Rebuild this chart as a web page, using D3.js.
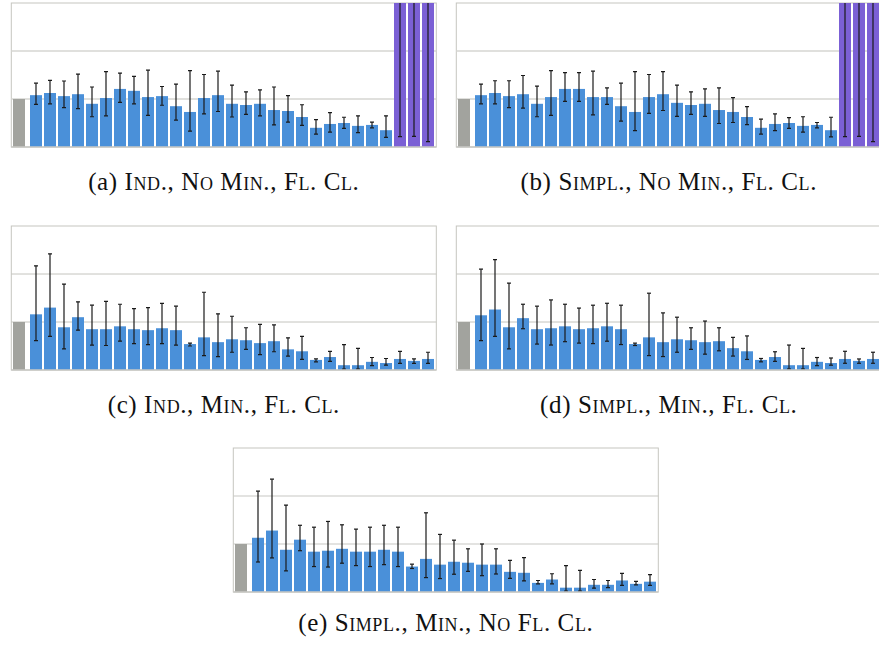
<!DOCTYPE html>
<html>
<head>
<meta charset="utf-8">
<script src="https://cdn.jsdelivr.net/npm/d3@7"></script>
<style>
  body { margin: 0; background: #fff; }
  svg { display: block; }
  .caption { font-family: "Liberation Serif", "DejaVu Serif", serif; font-size: 25px; letter-spacing: 0.6px; fill: #111; }
  .caption .sc { font-variant: small-caps; }
</style>
</head>
<body>
<svg id="chart" width="879" height="646"></svg>
<script>
// categories: reference bar + 29 configurations
var categories = ["C1","C2","C3","C4","C5","C6","C7","C8","C9","C10","C11","C12","C13","C14","C15",
  "C16","C17","C18","C19","C20","C21","C22","C23","C24","C25","C26","C27","C28","C29"];
var baselineValue = 1;
var outliersAB = ["C27","C28","C29"];   // purple bars in (a) and (b)
var yTicks = [1, 2, 3];

var labelsPanel = ["(a)", "(b)", "(c)", "(d)", "(e)"];
var captionA = "Ind., No Min., Fl. Cl.";
var captionB = "Simpl., No Min., Fl. Cl.";
var captionC = "Ind., Min., Fl. Cl.";
var captionD = "Simpl., Min., Fl. Cl.";
var captionE = "Simpl., Min., No Fl. Cl.";

var valuesA = [1.08,1.125,1.06,1.10,0.90,1.02,1.21,1.17,1.04,1.06,0.85,0.73,1.02,1.08,0.90,0.875,0.90,0.77,0.75,0.625,0.40,0.48,0.50,0.44,0.46,0.35,6,6,6];
var lowA    = [0.89,0.90,0.82,0.80,0.63,0.65,0.93,0.90,0.66,0.87,0.56,0.33,0.69,0.74,0.625,0.68,0.65,0.46,0.52,0.45,0.27,0.31,0.39,0.30,0.40,0.20,0.215,0.22,0.11];
var highA   = [1.33,1.39,1.375,1.52,1.25,1.57,1.54,1.47,1.60,1.26,1.31,1.59,1.51,1.58,1.29,1.15,1.19,1.25,1.07,0.88,0.57,0.715,0.62,0.65,0.52,0.65,12,12,12];

var valuesB = [1.08,1.125,1.06,1.10,0.90,1.04,1.21,1.21,1.04,1.04,0.85,0.73,1.04,1.10,0.92,0.875,0.90,0.77,0.73,0.625,0.40,0.48,0.50,0.44,0.46,0.35,6,6,6];
var lowB    = [0.90,0.90,0.82,0.81,0.63,0.66,0.95,0.95,0.67,0.89,0.54,0.34,0.70,0.76,0.64,0.68,0.64,0.49,0.51,0.465,0.27,0.34,0.39,0.31,0.40,0.21,0.215,0.22,0.11];
var highB   = [1.31,1.38,1.38,1.49,1.27,1.59,1.55,1.55,1.58,1.23,1.33,1.57,1.51,1.57,1.29,1.15,1.21,1.23,1.03,0.84,0.58,0.69,0.61,0.63,0.51,0.62,12,12,12];

var valuesC = [1.16,1.30,0.89,1.10,0.85,0.85,0.91,0.85,0.83,0.87,0.83,0.54,0.68,0.58,0.64,0.62,0.56,0.60,0.43,0.39,0.21,0.27,0.10,0.10,0.17,0.145,0.23,0.19,0.23];
var lowC    = [0.61,0.70,0.44,0.83,0.52,0.51,0.60,0.55,0.53,0.55,0.52,0.50,0.30,0.28,0.37,0.43,0.32,0.38,0.29,0.22,0.17,0.18,0.02,0.02,0.09,0.10,0.14,0.14,0.14];
var highC   = [2.17,2.42,1.79,1.42,1.35,1.43,1.37,1.28,1.30,1.39,1.33,0.56,1.62,1.17,1.12,0.88,0.95,0.94,0.67,0.70,0.23,0.39,0.53,0.45,0.26,0.24,0.39,0.23,0.37];

var valuesD = [1.14,1.26,0.89,1.08,0.85,0.87,0.91,0.85,0.87,0.91,0.85,0.54,0.68,0.58,0.64,0.62,0.58,0.60,0.455,0.39,0.21,0.27,0.10,0.10,0.17,0.145,0.23,0.19,0.23];
var lowD    = [0.61,0.70,0.44,0.86,0.54,0.52,0.59,0.56,0.55,0.60,0.53,0.51,0.30,0.28,0.37,0.43,0.33,0.40,0.29,0.22,0.17,0.18,0.02,0.02,0.09,0.10,0.14,0.14,0.14];
var highD   = [2.10,2.30,1.81,1.37,1.33,1.46,1.37,1.29,1.35,1.39,1.35,0.56,1.60,1.19,1.10,0.88,1.02,0.88,0.68,0.71,0.24,0.38,0.52,0.45,0.26,0.25,0.39,0.23,0.37];

var valuesE = [1.13,1.28,0.88,1.09,0.84,0.86,0.90,0.84,0.84,0.88,0.84,0.53,0.69,0.57,0.63,0.61,0.57,0.57,0.42,0.40,0.19,0.26,0.09,0.09,0.15,0.15,0.24,0.17,0.215];
var lowE    = [0.625,0.71,0.44,0.86,0.53,0.52,0.60,0.55,0.53,0.57,0.53,0.49,0.30,0.28,0.37,0.43,0.34,0.375,0.285,0.23,0.17,0.17,0.02,0.02,0.08,0.09,0.14,0.15,0.14];
var highE   = [2.10,2.35,1.81,1.39,1.35,1.47,1.40,1.31,1.35,1.39,1.35,0.58,1.65,1.20,1.08,0.90,1.00,0.90,0.66,0.715,0.24,0.38,0.55,0.45,0.26,0.24,0.39,0.22,0.36];

var blue = "#4a90d9", purple = "#7b60d5", grey = "#a2a39e";

var svg = d3.select("#chart");
var W = 425, H = 144;

// panel placement, grid style per panel
var panels = [
  {id: "a", left: 11.3, top: 3, capY: 190, label: labelsPanel[0], caption: captionA, v: valuesA, lo: lowA, hi: highA, purple: true, grid: "#d6d6d2", gw: 1.5},
  {id: "b", left: 456.3, top: 3, capY: 190, label: labelsPanel[1], caption: captionB, v: valuesB, lo: lowB, hi: highB, purple: true, grid: "#d6d6d2", gw: 1.5},
  {id: "c", left: 11.3, top: 226, capY: 413, label: labelsPanel[2], caption: captionC, v: valuesC, lo: lowC, hi: highC, purple: false, grid: "#c4c4be", gw: 1},
  {id: "d", left: 456.3, top: 226, capY: 413, label: labelsPanel[3], caption: captionD, v: valuesD, lo: lowD, hi: highD, purple: false, grid: "#c4c4be", gw: 1},
  {id: "e", left: 233.3, top: 448, capY: 631, label: labelsPanel[4], caption: captionE, v: valuesE, lo: lowE, hi: highE, purple: false, grid: "#c8c8c4", gw: 1.2}
];

panels.forEach(function(p) {
  var g = svg.append("g").attr("transform", "translate(" + p.left + "," + p.top + ")");

  var y = d3.scaleLinear().domain([0, 3]).range([H, 0]);
  var x = d3.scaleBand().domain(categories)
    .range([18.7, 18.7 + categories.length * 14 - 2])
    .paddingInner(2 / 14).paddingOuter(0);

  g.append("clipPath").attr("id", "clip-" + p.id)
    .append("rect").attr("width", W).attr("height", H);

  // frame and gridlines
  g.append("rect").attr("width", W).attr("height", H)
    .attr("fill", "none").attr("stroke", "#c6c6c0").attr("stroke-width", 1);
  g.selectAll(".grid").data(yTicks.slice(0, 2)).enter().append("line")
    .attr("x1", 0).attr("x2", W)
    .attr("y1", function(d) { return y(d); }).attr("y2", function(d) { return y(d); })
    .attr("stroke", p.grid).attr("stroke-width", p.gw);

  var plot = g.append("g").attr("clip-path", "url(#clip-" + p.id + ")");

  // reference bar
  plot.append("rect")
    .attr("x", x(categories[0]) - 17).attr("width", x.bandwidth())
    .attr("y", y(baselineValue)).attr("height", y(0) - y(baselineValue))
    .attr("fill", grey);

  var rows = categories.map(function(c, i) {
    return {cat: c, v: p.v[i], lo: p.lo[i], hi: p.hi[i]};
  });

  plot.selectAll(".bar").data(rows).enter().append("rect")
    .attr("x", function(d) { return x(d.cat); })
    .attr("width", x.bandwidth())
    .attr("y", function(d) { return y(d.v); })
    .attr("height", function(d) { return y(0) - y(d.v); })
    .attr("fill", function(d) { return p.purple && outliersAB.indexOf(d.cat) >= 0 ? purple : blue; });

  var err = plot.selectAll(".err").data(rows).enter().append("g")
    .attr("transform", function(d) { return "translate(" + (x(d.cat) + x.bandwidth() / 2) + ",0)"; })
    .attr("stroke", "#1a1a1a").attr("stroke-width", 1.2);
  err.append("line")
    .attr("y1", function(d) { return y(d.lo); }).attr("y2", function(d) { return y(d.hi); });
  err.append("line").attr("x1", -2).attr("x2", 2)
    .attr("y1", function(d) { return y(d.lo); }).attr("y2", function(d) { return y(d.lo); });
  err.append("line").attr("x1", -2).attr("x2", 2)
    .attr("y1", function(d) { return y(d.hi); }).attr("y2", function(d) { return y(d.hi); });

  // baseline axis
  g.append("line").attr("x1", 0).attr("x2", W).attr("y1", H).attr("y2", H)
    .attr("stroke", "#c8c8c4").attr("stroke-width", 1.5);

  var cap = svg.append("text").attr("class", "caption")
    .attr("x", p.left + W / 2).attr("y", p.capY)
    .attr("text-anchor", "middle");
  cap.append("tspan").text(p.label + " ");
  cap.append("tspan").attr("class", "sc").text(p.caption);
});
</script>
</body>
</html>
